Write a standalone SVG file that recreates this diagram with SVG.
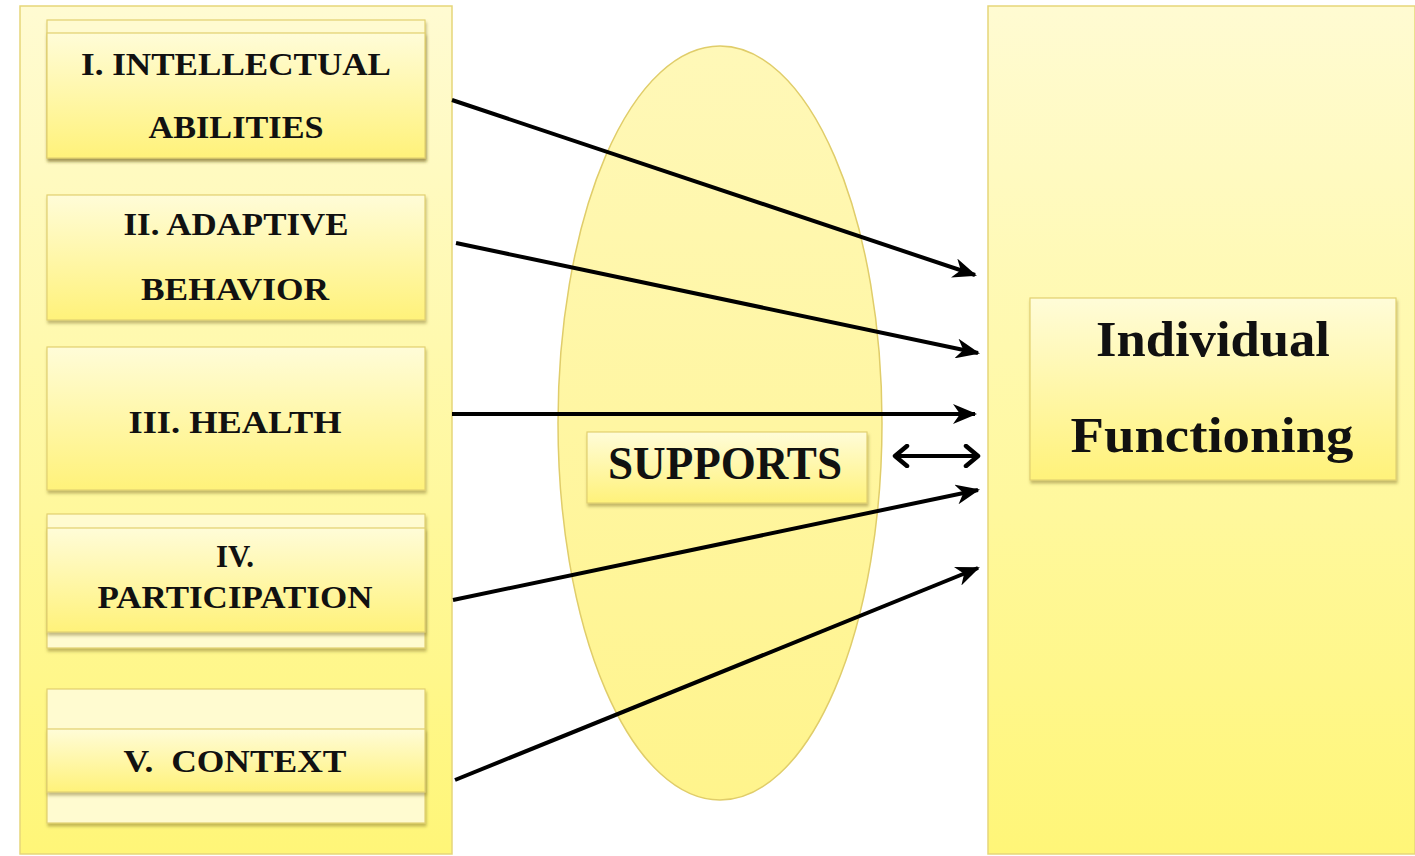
<svg xmlns="http://www.w3.org/2000/svg" width="1415" height="856" viewBox="0 0 1415 856">
<defs>
<linearGradient id="panelG" x1="0" y1="0" x2="0" y2="1">
<stop offset="0" stop-color="#fffbd2"/>
<stop offset="1" stop-color="#fff678"/>
</linearGradient>
<linearGradient id="boxG" x1="0" y1="0" x2="0" y2="1">
<stop offset="0" stop-color="#fffcd8"/>
<stop offset="1" stop-color="#fff27a"/>
</linearGradient>
<linearGradient id="ellG" x1="0" y1="0" x2="0" y2="1">
<stop offset="0" stop-color="#fff8b8"/>
<stop offset="1" stop-color="#fff48c"/>
</linearGradient>
<filter id="sh" x="-10%" y="-10%" width="120%" height="130%">
<feDropShadow dx="1" dy="3" stdDeviation="1.8" flood-color="#7a6a20" flood-opacity="0.45"/>
</filter>
<marker id="ah" viewBox="0 0 24 20" refX="22" refY="10" markerWidth="24" markerHeight="20" markerUnits="userSpaceOnUse" orient="auto">
<path d="M0,0 L24,10 L0,20 L7,10 z" fill="#000"/>
</marker>
<marker id="chev" viewBox="0 0 18 24" refX="15" refY="12" markerWidth="18" markerHeight="24" markerUnits="userSpaceOnUse" orient="auto-start-reverse">
<path d="M3,2 L15,12 L3,22" fill="none" stroke="#000" stroke-width="4.5" stroke-linecap="round" stroke-linejoin="round"/>
</marker>
</defs>
<style>
.panel{fill:url(#panelG);stroke:#e6d67a;stroke-width:1.5}
.box{fill:url(#boxG);stroke:#e2d070;stroke-width:1.2;filter:url(#sh)}
.back{fill:#fffbd0;stroke:#e2d070;stroke-width:1.2;filter:url(#sh)}
.t{font-family:"Liberation Serif","Times New Roman",serif;font-weight:bold;fill:#111;text-anchor:middle}
.s{font-size:32px}
.big{font-size:46px}
.huge{font-size:50px}
.con{stroke:#000;stroke-width:4;fill:none;marker-end:url(#ah)}
.dbl{stroke:#000;stroke-width:4;fill:none;marker-end:url(#chev);marker-start:url(#chev)}
</style>
<rect width="1415" height="856" fill="#fff"/>
<g id="left-panel">
<rect class="panel" x="20" y="6" width="432" height="848"/>
</g>
<g id="right-panel">
<rect class="panel" x="988" y="6" width="427" height="848"/>
</g>
<g id="supports-ellipse">
<ellipse cx="720" cy="423" rx="162" ry="377" fill="url(#ellG)" stroke="#e0cd6a" stroke-width="1.5"/>
</g>
<g id="node-intellectual">
<rect class="back" x="47" y="20" width="378" height="138"/>
<rect class="box" x="47" y="33" width="378" height="125"/>
<text class="t s" x="236" y="75" textLength="310" lengthAdjust="spacingAndGlyphs">I. INTELLECTUAL</text>
<text class="t s" x="236" y="138" textLength="175" lengthAdjust="spacingAndGlyphs">ABILITIES</text>
</g>
<g id="node-adaptive">
<rect class="box" x="47" y="195" width="378" height="125"/>
<text class="t s" x="236" y="235" textLength="225" lengthAdjust="spacingAndGlyphs">II. ADAPTIVE</text>
<text class="t s" x="235" y="300" textLength="188" lengthAdjust="spacingAndGlyphs">BEHAVIOR</text>
</g>
<g id="node-health">
<rect class="box" x="47" y="347" width="378" height="143"/>
<text class="t s" x="235" y="433" textLength="213" lengthAdjust="spacingAndGlyphs">III. HEALTH</text>
</g>
<g id="node-participation">
<rect class="back" x="47" y="514" width="378" height="134"/>
<rect class="box" x="47" y="528" width="378" height="104"/>
<text class="t s" x="235" y="567" textLength="38" lengthAdjust="spacingAndGlyphs">IV.</text>
<text class="t s" x="235" y="608" textLength="275" lengthAdjust="spacingAndGlyphs">PARTICIPATION</text>
</g>
<g id="node-context">
<rect class="back" x="47" y="689" width="378" height="134"/>
<rect class="box" x="47" y="729" width="378" height="63"/>
<text class="t s" x="235" y="772" textLength="223" lengthAdjust="spacingAndGlyphs" xml:space="preserve">V.  CONTEXT</text>
</g>
<g id="node-supports">
<rect class="box" x="587" y="432" width="280" height="71"/>
<text class="t big" x="725" y="479" textLength="234" lengthAdjust="spacingAndGlyphs">SUPPORTS</text>
</g>
<g id="node-individual">
<rect class="box" x="1030" y="298" width="366" height="182"/>
<text class="t huge" x="1213" y="356" textLength="234" lengthAdjust="spacingAndGlyphs">Individual</text>
<text class="t huge" x="1212" y="452" textLength="283" lengthAdjust="spacingAndGlyphs">Functioning</text>
</g>
<g id="connectors">
<line class="con" x1="452" y1="100" x2="975" y2="275"/>
<line class="con" x1="456" y1="243" x2="978" y2="353"/>
<line class="con" x1="452" y1="414" x2="975" y2="414"/>
<line class="con" x1="453" y1="600" x2="978" y2="490"/>
<line class="con" x1="455" y1="780" x2="978" y2="568"/>
<line class="dbl" x1="895" y1="456" x2="978" y2="456"/>
</g>
</svg>
